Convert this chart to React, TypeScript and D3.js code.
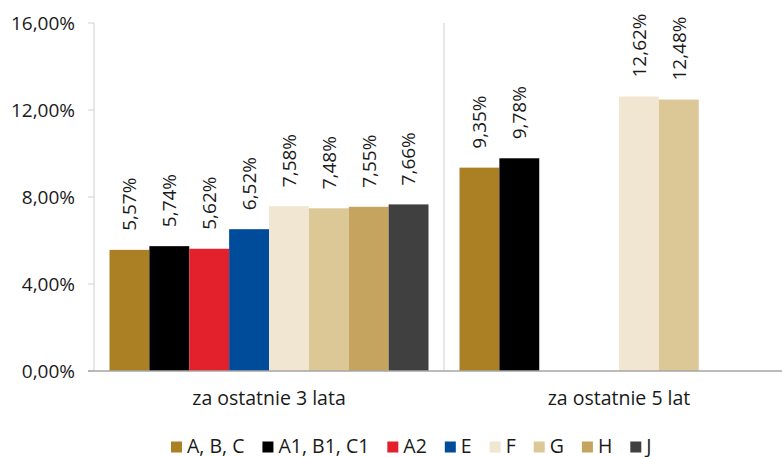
import React, { useEffect, useRef } from "react";
import * as d3 from "d3";

const categories = ["za ostatnie 3 lata", "za ostatnie 5 lat"];
const seriesNames = ["A, B, C", "A1, B1, C1", "A2", "E", "F", "G", "H", "J"];
const seriesColors = ["#ab7f24", "#000000", "#e3212d", "#004b9a", "#f0e6d2", "#dcc896", "#c4a45f", "#404040"];
const values3y: (number | null)[] = [5.57, 5.74, 5.62, 6.52, 7.58, 7.48, 7.55, 7.66];
const values5y: (number | null)[] = [9.35, 9.78, null, null, 12.62, 12.48, null, null];
const yTicks = [0, 4, 8, 12, 16];

const W = 782;
const H = 457;
const FONT = "'Open Sans', 'Liberation Sans', sans-serif";

const fmt = (v: number) => v.toFixed(2).replace(".", ",") + "%";

export default function App() {
  const ref = useRef<SVGSVGElement>(null);

  useEffect(() => {
    const svg = d3.select(ref.current);
    svg.selectAll("*").remove();

    const left = 94;
    const top = 23;
    const bottom = 371;

    const y = d3.scaleLinear().domain([0, 16]).range([bottom, top]);
    const x0 = d3.scaleBand<string>().domain(categories).range([left, left + 700]).padding(0);
    const x1 = d3.scaleBand<string>().domain(seriesNames).range([15.5, 334.5]).padding(0);

    const data = [values3y, values5y];

    // y axis line
    svg.append("line").attr("x1", left).attr("x2", left).attr("y1", top).attr("y2", bottom)
      .attr("stroke", "#d0d0d0").attr("stroke-width", 1);
    // separator
    svg.append("line").attr("x1", left + 350).attr("x2", left + 350).attr("y1", top).attr("y2", bottom)
      .attr("stroke", "#e0e0e0").attr("stroke-width", 1.5);

    // y ticks
    const yt = svg.append("g");
    yTicks.forEach((t) => {
      yt.append("line").attr("x1", left - 6).attr("x2", left).attr("y1", y(t)).attr("y2", y(t))
        .attr("stroke", "#d0d0d0");
      yt.append("text").attr("x", 75).attr("y", y(t)).attr("dy", "0.36em")
        .attr("text-anchor", "end").attr("font-family", FONT).attr("font-size", 19)
        .attr("fill", "#1a1a1a").text(fmt(t));
    });

    // bars
    categories.forEach((c, ci) => {
      const g = svg.append("g").attr("transform", `translate(${x0(c)},0)`);
      data[ci].forEach((v, si) => {
        if (v == null) return;
        const bx = x1(seriesNames[si])!;
        const bw = x1.bandwidth();
        g.append("rect").attr("x", bx).attr("y", y(v)).attr("width", bw).attr("height", bottom - y(v))
          .attr("fill", seriesColors[si]);
        const cx = bx + bw / 2;
        const ty = y(v) - 19;
        g.append("text")
          .attr("transform", `translate(${cx},${ty}) rotate(-90)`)
          .attr("dy", "0.36em")
          .attr("text-anchor", "start")
          .attr("font-family", FONT).attr("font-size", 19).attr("fill", "#1a1a1a")
          .text(fmt(v));
      });
      svg.append("text").attr("x", x0(c)! + 175).attr("y", 405).attr("text-anchor", "middle")
        .attr("font-family", FONT).attr("font-size", 19.5).attr("fill", "#1a1a1a").text(c);
    });

    // x axis line
    svg.append("line").attr("x1", left - 6).attr("x2", W).attr("y1", bottom).attr("y2", bottom)
      .attr("stroke", "#a6a6a6").attr("stroke-width", 1.5);

    // legend
    const lg = svg.append("g");
    let lx = 171;
    seriesNames.forEach((n, i) => {
      lg.append("rect").attr("x", lx).attr("y", 441.5).attr("width", 11).attr("height", 11)
        .attr("fill", seriesColors[i]);
      const t = lg.append("text").attr("x", lx + 16).attr("y", 452.5)
        .attr("font-family", FONT).attr("font-size", 19.5).attr("fill", "#1a1a1a").text(n);
      const w = (t.node() as SVGTextElement).getComputedTextLength();
      lx = lx + 16 + w + 18;
    });
  }, []);

  return (
    <svg ref={ref} width={W} height={H}
      style={{ position: "absolute", left: 0, top: 0, background: "#fff" }} />
  );
}
